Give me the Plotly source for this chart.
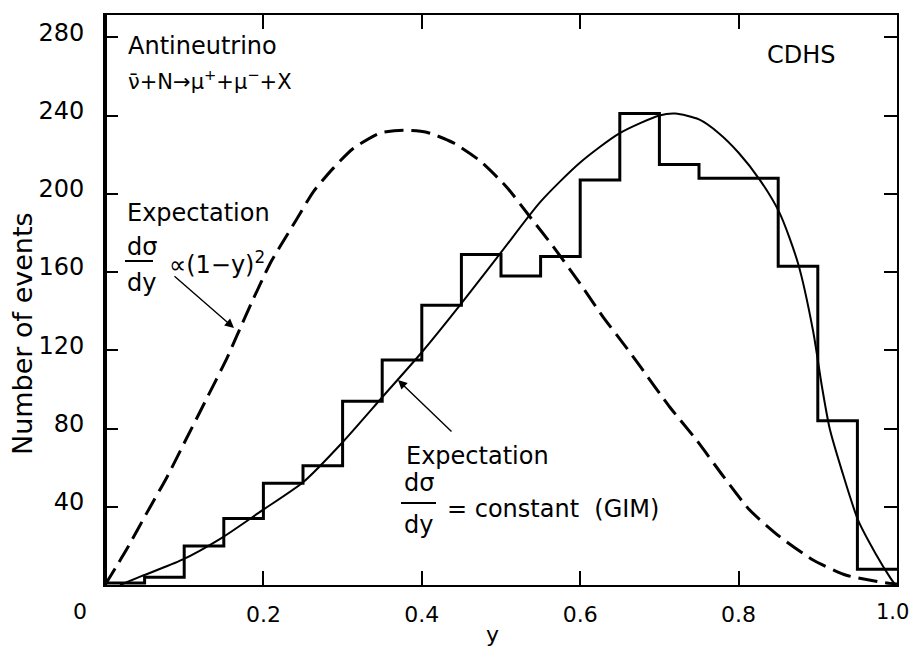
import plotly.graph_objects as go

# ---------------- data ----------------
bin_edges = [0.0, 0.05, 0.10, 0.15, 0.20, 0.25, 0.30, 0.35, 0.40, 0.45, 0.50,
             0.55, 0.60, 0.65, 0.70, 0.75, 0.80, 0.85, 0.90, 0.95, 1.0]
bin_counts = [1, 4, 20, 34, 52, 61, 94, 115, 143, 169,
              158, 168, 207, 241, 215, 208, 208, 163, 84, 8]

gim_y = [0.019, 0.046, 0.097, 0.147, 0.198, 0.25, 0.30, 0.35, 0.40, 0.45, 0.50,
         0.55, 0.60, 0.65, 0.70, 0.72, 0.75, 0.775, 0.80, 0.827,
         0.852, 0.875, 0.894, 0.905, 0.915, 0.93, 0.951, 0.973, 0.992, 0.998]
gim_n = [0, 4.5, 12.8, 24, 38, 52.5, 73, 96, 119, 144, 170,
         196, 216, 231, 240, 241, 238, 231, 221, 207,
         190, 164.5, 130, 102, 80, 59, 33, 16, 3.4, 0]

rh_y = [0.0, 0.027, 0.053, 0.078, 0.103, 0.128, 0.154, 0.166, 0.187, 0.208, 0.221,
        0.242, 0.263, 0.288, 0.313, 0.347, 0.377, 0.406, 0.44, 0.473, 0.507, 0.537,
        0.566, 0.60, 0.629, 0.659, 0.676, 0.713, 0.747, 0.781, 0.814, 0.852, 0.894,
        0.936, 0.976, 1.0]
rh_n = [0, 18, 37, 55, 75, 95, 116, 127, 146, 164, 173,
        187, 201, 213, 223, 231, 232.5, 231.5, 226, 217, 203.5, 188,
        173, 154, 137, 121, 111.6, 91, 74, 55.4, 38.3, 24.7, 12.8,
        5, 1.7, 0.5]

x_ticks = [0.2, 0.4, 0.6, 0.8]
x_tick_text = ["0.2", "0.4", "0.6", "0.8"]
y_ticks = [40, 80, 120, 160, 200, 240, 280]
y_tick_text = ["40", "80", "120", "160", "200", "240", "280"]

# ---------------- layout helpers (pixel -> paper) ----------------
W, H = 910, 647
L, R, T, B = 105, 897, 15, 585
YMAX = 291.4


def PX(px):
    return (px - L) / (R - L)


def PY(py):
    return (B - py) / (B - T)


FONT = "DejaVu Sans"
fig = go.Figure()

hist_y = bin_counts + [bin_counts[-1]]
fig.add_trace(go.Scatter(x=bin_edges, y=hist_y, mode="lines",
                         line=dict(color="black", width=3, shape="hv"),
                         showlegend=False, hoverinfo="skip"))
fig.add_trace(go.Scatter(x=gim_y, y=gim_n, mode="lines",
                         line=dict(color="black", width=2, shape="spline", smoothing=0.7),
                         showlegend=False, hoverinfo="skip"))
fig.add_trace(go.Scatter(x=rh_y, y=rh_n, mode="lines",
                         line=dict(color="black", width=3, dash="19px,8px",
                                   shape="spline", smoothing=0.6),
                         showlegend=False, hoverinfo="skip"))


def txt(s, px, py, size=24, xanchor="left", angle=0):
    fig.add_annotation(text=s, x=PX(px), y=PY(py), xref="paper", yref="paper",
                       xanchor=xanchor, yanchor="middle", showarrow=False,
                       textangle=angle,
                       font=dict(family=FONT, size=size, color="black"))


txt("Antineutrino", 126, 46)
txt("ν\u0304+N→μ<sup>+</sup>+μ<sup>−</sup>+X", 126, 80, size=21)
txt("CDHS", 765, 55)

txt("Expectation", 125, 213)
txt("dσ", 125, 247)
txt("dy", 125, 283)
txt("∝(1−y)<sup>2</sup>", 167, 263)

txt("Expectation", 404, 456)
txt("dσ", 402, 483)
txt("dy", 402, 525)
txt("= constant  (GIM)", 445, 509)

txt("0", 80, 611, size=22, xanchor="center")
txt("1.0", 892, 612, size=21, xanchor="center")
txt("y", 492, 634, size=22, xanchor="center")
txt("Number of events", 22, 334, size=27, xanchor="center", angle=-90)

# fraction bars
for x0, x1, yy in [(125, 153, 261), (401, 436, 503)]:
    fig.add_shape(type="line", x0=PX(x0), x1=PX(x1), y0=PY(yy), y1=PY(yy),
                  xref="paper", yref="paper", line=dict(color="black", width=2))

# arrows (tail -> head, pixel offsets)
for (tx, ty), (hx, hy) in [((173, 275), (234, 328)), ((453, 433), (398, 380))]:
    fig.add_annotation(x=PX(hx), y=PY(hy), xref="paper", yref="paper",
                       ax=tx - hx, ay=ty - hy, axref="pixel", ayref="pixel",
                       text="", showarrow=True,
                       arrowhead=2, arrowsize=1.3, arrowwidth=1.4, arrowcolor="black")

# thick left axis
fig.add_shape(type="line", xref="paper", yref="paper", x0=0, x1=0, y0=0, y1=1,
              line=dict(color="black", width=4))

fig.update_layout(
    width=W, height=H,
    margin=dict(l=L, r=W - R, t=T, b=H - B, autoexpand=False),
    plot_bgcolor="white", paper_bgcolor="white",
    font=dict(family=FONT, color="black"),
)
fig.update_xaxes(range=[0, 1.0], showgrid=False, zeroline=False, automargin=False,
                 showline=True, linecolor="black", linewidth=2, mirror="allticks",
                 ticks="inside", ticklen=14, tickwidth=2, tickcolor="black",
                 tickvals=x_ticks, ticktext=x_tick_text,
                 tickfont=dict(family=FONT, size=22, color="black"),
                 ticklabelstandoff=9)
fig.update_yaxes(range=[0, YMAX], showgrid=False, zeroline=False, automargin=False,
                 showline=True, linecolor="black", linewidth=2, mirror="allticks",
                 ticks="inside", ticklen=13, tickwidth=2, tickcolor="black",
                 tickvals=y_ticks, ticktext=y_tick_text,
                 tickfont=dict(family=FONT, size=24, color="black"),
                 ticklabelstandoff=14, ticklabelshift=-5)

fig.write_html("out.html", config={"displayModeBar": False},
               post_script="document.body.style.margin='0px';document.body.style.overflow='hidden';")
